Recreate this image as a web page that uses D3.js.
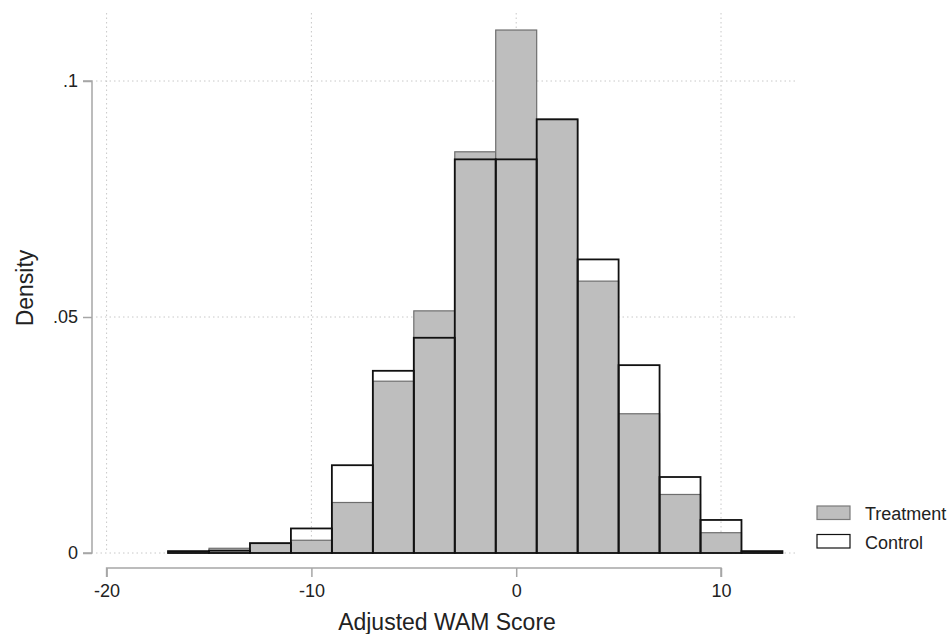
<!DOCTYPE html>
<html>
<head>
<meta charset="utf-8">
<script src="https://cdn.jsdelivr.net/npm/d3@7"></script>
<style>
  body { margin: 0; background: #fff; }
  svg { display: block; font-family: "Liberation Sans", Arial, Helvetica, sans-serif; }
</style>
</head>
<body>
<svg id="chart" width="952" height="634"></svg>
<script>
// histogram bins (lower edges), width 2
const binStarts = [-17, -15, -13, -11, -9, -7, -5, -3, -1, 1, 3, 5, 7, 9, 11];
const binWidth = 2;
// densities
const treatment = [0.0003, 0.0010, 0.0020, 0.0027, 0.0107, 0.0364, 0.0513, 0.0850, 0.1108, 0.0918, 0.0576, 0.0295, 0.0124, 0.0043, 0.0003];
const control   = [0.0004, 0.0005, 0.0021, 0.0052, 0.0186, 0.0386, 0.0456, 0.0834, 0.0834, 0.0919, 0.0622, 0.0398, 0.0161, 0.0070, 0.0004];

const xTicks = [-20, -10, 0, 10];
const xTickLabels = ['-20', '-10', '0', '10'];
const yTicks = [0, 0.05, 0.1];
const yTickLabels = ['0', '.05', '.1'];
const legendItems = ['Treatment', 'Control'];

const svg = d3.select('#chart');

const x = d3.scaleLinear().domain([-20, 10]).range([106.6, 721]);
const y = d3.scaleLinear().domain([0, 0.1]).range([553, 81]);

const plotLeft = 96, plotRight = 798, plotTop = 13, plotBottom = 553;

// gridlines
const grid = svg.append('g');
grid.selectAll('.vg').data(xTicks).enter().append('line')
    .attr('x1', d => x(d)).attr('x2', d => x(d))
    .attr('y1', plotTop).attr('y2', plotBottom)
    .attr('stroke', '#c8c8c8').attr('stroke-width', 1)
    .attr('stroke-dasharray', '1.5,3');
grid.selectAll('.hg').data(yTicks).enter().append('line')
    .attr('x1', plotLeft).attr('x2', plotRight)
    .attr('y1', d => y(d)).attr('y2', d => y(d))
    .attr('stroke', '#c8c8c8').attr('stroke-width', 1)
    .attr('stroke-dasharray', '1.5,3');

// treatment bars (gray)
svg.append('g').selectAll('rect').data(binStarts).enter().append('rect')
    .attr('x', d => x(d))
    .attr('width', d => x(d + binWidth) - x(d))
    .attr('y', (d, i) => y(treatment[i]))
    .attr('height', (d, i) => y(0) - y(treatment[i]))
    .attr('fill', '#bebebe')
    .attr('stroke', '#6e6e6e')
    .attr('stroke-width', 1.2);

// control bars (outline only)
svg.append('g').selectAll('rect').data(binStarts).enter().append('rect')
    .attr('x', d => x(d))
    .attr('width', d => x(d + binWidth) - x(d))
    .attr('y', (d, i) => y(control[i]))
    .attr('height', (d, i) => y(0) - y(control[i]))
    .attr('fill', 'none')
    .attr('stroke', '#111')
    .attr('stroke-width', 1.8);

// y axis
const yAxis = d3.axisLeft(y).tickValues(yTicks)
    .tickFormat((d, i) => yTickLabels[i]).tickSize(9).tickPadding(5);
const gy = svg.append('g').attr('transform', 'translate(92,0)').call(yAxis);
gy.select('.domain').attr('stroke', '#a6a6a6').attr('stroke-width', 1.5)
    .attr('d', `M-9,${y(0.1)}H0V${y(0)}H-9`);
gy.selectAll('.tick line').attr('stroke', '#a6a6a6').attr('stroke-width', 1.5);
gy.selectAll('.tick text').attr('font-size', 18).attr('fill', '#222')
    .attr('font-family', '"Liberation Sans", Arial, sans-serif');

// x axis
const xAxis = d3.axisBottom(x).tickValues(xTicks)
    .tickFormat((d, i) => xTickLabels[i]).tickSize(9).tickPadding(7);
const gx = svg.append('g').attr('transform', 'translate(0,568)').call(xAxis);
gx.select('.domain').attr('stroke', '#a6a6a6').attr('stroke-width', 1.5)
    .attr('d', `M${x(-20)},9V0H${x(10)}V9`);
gx.selectAll('.tick line').attr('stroke', '#a6a6a6').attr('stroke-width', 1.5);
gx.selectAll('.tick text').attr('font-size', 18).attr('fill', '#222')
    .attr('font-family', '"Liberation Sans", Arial, sans-serif');

// axis titles
svg.append('text')
    .attr('x', (plotLeft + plotRight) / 2)
    .attr('y', 630)
    .attr('text-anchor', 'middle')
    .attr('font-size', 23)
    .attr('fill', '#222')
    .text('Adjusted WAM Score');
svg.append('text')
    .attr('transform', 'translate(33,288) rotate(-90)')
    .attr('text-anchor', 'middle')
    .attr('font-size', 23)
    .attr('fill', '#222')
    .text('Density');

// legend
const legend = svg.append('g').attr('transform', 'translate(817,506)');
legendItems.forEach((name, i) => {
    const row = legend.append('g').attr('transform', `translate(0,${i * 28.5})`);
    row.append('rect')
        .attr('x', 0).attr('y', 0).attr('width', 33).attr('height', 13.5)
        .attr('fill', i === 0 ? '#bebebe' : '#fff')
        .attr('stroke', i === 0 ? '#7a7a7a' : '#111')
        .attr('stroke-width', 1.2);
    row.append('text')
        .attr('x', 48).attr('y', 14)
        .attr('font-size', 18)
        .attr('fill', '#222')
        .text(name);
});
</script>
</body>
</html>
